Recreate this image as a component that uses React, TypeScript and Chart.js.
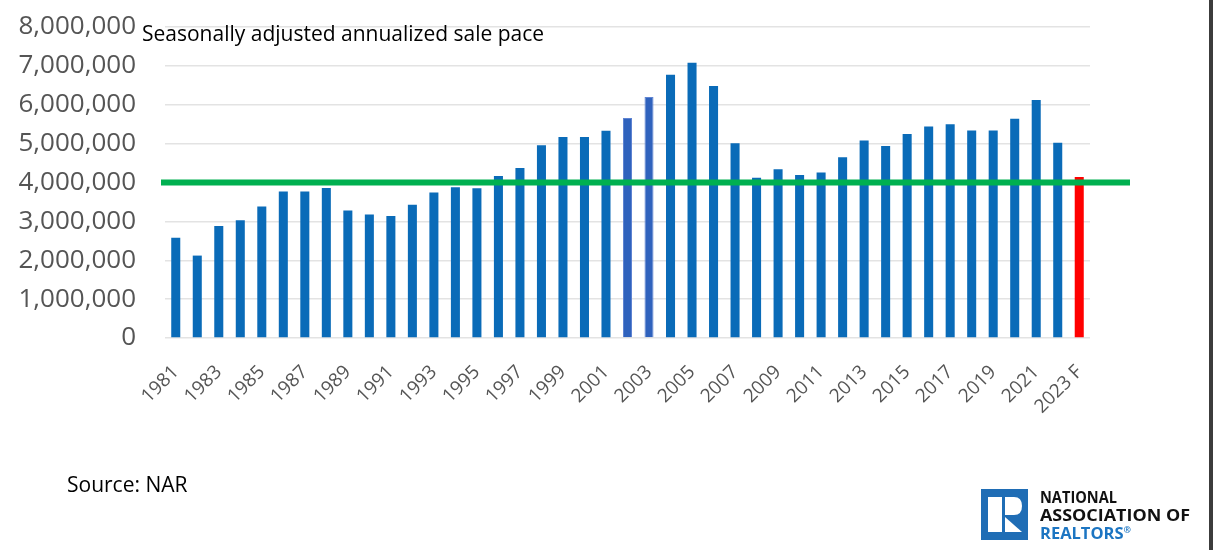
import React, { useEffect, useRef } from "react";
import { Chart, registerables } from "chart.js";

Chart.register(...registerables);

// Existing-home sales by year, seasonally adjusted annualized pace
const years: string[] = [
  "1981", "1982", "1983", "1984", "1985", "1986", "1987", "1988", "1989", "1990",
  "1991", "1992", "1993", "1994", "1995", "1996", "1997", "1998", "1999", "2000",
  "2001", "2002", "2003", "2004", "2005", "2006", "2007", "2008", "2009", "2010",
  "2011", "2012", "2013", "2014", "2015", "2016", "2017", "2018", "2019", "2020",
  "2021", "2022", "2023 F",
];

const sales: number[] = [
  2580000, 2120000, 2880000, 3030000, 3380000, 3770000, 3770000, 3860000, 3280000, 3180000,
  3140000, 3430000, 3740000, 3880000, 3850000, 4170000, 4370000, 4960000, 5170000, 5170000,
  5330000, 5660000, 6200000, 6770000, 7080000, 6480000, 5010000, 4120000, 4340000, 4190000,
  4260000, 4650000, 5080000, 4940000, 5250000, 5440000, 5500000, 5340000, 5340000, 5640000,
  6120000, 5020000, 4140000,
];

// Years whose bars are drawn with a highlight outline
const highlightedYears: string[] = ["2002", "2003"];
// Forecast year drawn in red
const forecastYear = "2023 F";
// Level of the horizontal reference line
const referenceLevel = 4000000;

const yTicks: number[] = [0, 1000000, 2000000, 3000000, 4000000, 5000000, 6000000, 7000000, 8000000];

const BLUE = "#0a6bb8";
const HIGHLIGHT_FILL = "#2f62bd";
const HIGHLIGHT_BORDER = "#5f84d2";
const RED = "#ff0000";
const GREEN = "#00b050";
const GRAY_TEXT = "#555555";

Chart.defaults.font.family = '"Open Sans"';

const referenceLinePlugin = {
  id: "referenceLine",
  afterDatasetsDraw(chart: any) {
    const { ctx, chartArea, scales } = chart;
    const y = scales.y.getPixelForValue(referenceLevel);
    ctx.save();
    ctx.fillStyle = GREEN;
    ctx.fillRect(chartArea.left - 4, y - 3, chartArea.right + 40 - (chartArea.left - 4), 6);
    ctx.restore();
  },
};

const annotationTextPlugin = {
  id: "annotationText",
  afterDraw(chart: any) {
    const { ctx } = chart;
    ctx.save();
    ctx.fillStyle = "#000000";
    ctx.textBaseline = "alphabetic";
    ctx.textAlign = "left";
    ctx.font = '21px "Open Sans"';
    ctx.fillText("Seasonally adjusted annualized sale pace", 142, 41);
    ctx.fillText("Source: NAR", 67, 492);
    ctx.restore();
  },
};

function ChartView() {
  const canvasRef = useRef<HTMLCanvasElement | null>(null);

  useEffect(() => {
    if (!canvasRef.current) return;
    const colors = years.map((y) =>
      y === forecastYear ? RED : highlightedYears.includes(y) ? HIGHLIGHT_FILL : BLUE
    );
    const borderColors = years.map((y) => (highlightedYears.includes(y) ? HIGHLIGHT_BORDER : "rgba(0,0,0,0)"));
    const borderWidths = years.map((y) => (highlightedYears.includes(y) ? 1 : 0));

    const chart = new Chart(canvasRef.current, {
      type: "bar",
      data: {
        labels: years,
        datasets: [
          {
            data: sales,
            backgroundColor: colors,
            borderColor: borderColors,
            borderWidth: borderWidths,
            barPercentage: 0.42,
            categoryPercentage: 1.0,
          },
        ],
      },
      options: {
        animation: false,
        responsive: false,
        layout: { padding: { left: 0, right: 123, top: 27, bottom: 0 } },
        plugins: {
          legend: { display: false },
          tooltip: { enabled: false },
          title: { display: false },
        },
        scales: {
          x: {
            grid: { display: false, drawTicks: false },
            border: { display: false },
            ticks: {
              autoSkip: false,
              maxRotation: 45,
              minRotation: 45,
              padding: 23,
              color: GRAY_TEXT,
              font: { size: 19 },
              callback: (_v: any, i: number) => (i % 2 === 0 ? years[i] : ""),
            },
            afterFit: (scale: any) => {
              scale.height = 212;
              scale.paddingLeft = 0;
              scale.paddingRight = 0;
            },
          },
          y: {
            min: yTicks[0],
            max: yTicks[yTicks.length - 1],
            afterBuildTicks: (scale: any) => {
              scale.ticks = yTicks.map((v) => ({ value: v }));
            },
            grid: { color: "#e3e3e3", lineWidth: 1.5, drawTicks: false },
            border: { display: false },
            ticks: {
              padding: 29,
              color: GRAY_TEXT,
              font: { size: 26 },
              callback: (v: any) => Number(v).toLocaleString("en-US"),
            },
            afterFit: (scale: any) => {
              scale.width = 165;
              scale.paddingTop = 0;
              scale.paddingBottom = 0;
            },
          },
        },
      },
      plugins: [referenceLinePlugin, annotationTextPlugin],
    });
    return () => chart.destroy();
  }, []);

  return <canvas ref={canvasRef} width={1213} height={550} style={{ position: "absolute", left: 0, top: 0 }} />;
}

function Logo() {
  return (
    <svg
      width={238}
      height={67}
      style={{ position: "absolute", left: 975, top: 483 }}
      viewBox="0 0 238 67"
    >
      <rect x={6} y={6} width={47} height={51} fill="#1f6db5" />
      <rect x={13} y={14} width={14} height={35} fill="#ffffff" />
      <path d="M30 14 H39 Q47 14 47 23 Q47 32 39 32 H30 Z" fill="#ffffff" />
      <path d="M30 34 L47 49 L30 49 Z" fill="#ffffff" />
      <g fontFamily='"Open Sans"' fontWeight={700} fontSize={16.5}>
        <text x={65} y={20} fill="#111111" textLength={77} lengthAdjust="spacingAndGlyphs">NATIONAL</text>
        <text x={65} y={38} fill="#111111" textLength={150} lengthAdjust="spacingAndGlyphs">ASSOCIATION OF</text>
        <text x={65} y={56} fill="#1c75c2">
          REALTORS<tspan fontSize={9} dy={-6}>®</tspan>
        </text>
      </g>
    </svg>
  );
}

export default function App() {
  return (
    <div
      style={{
        position: "absolute",
        left: 0,
        top: 0,
        width: 1213,
        height: 550,
        background: "#ffffff",
        overflow: "hidden",
      }}
    >
      <ChartView />
      <Logo />
      <div style={{ position: "absolute", left: 1209, top: 0, width: 4, height: 550, background: "#3c3c3c" }} />
    </div>
  );
}
